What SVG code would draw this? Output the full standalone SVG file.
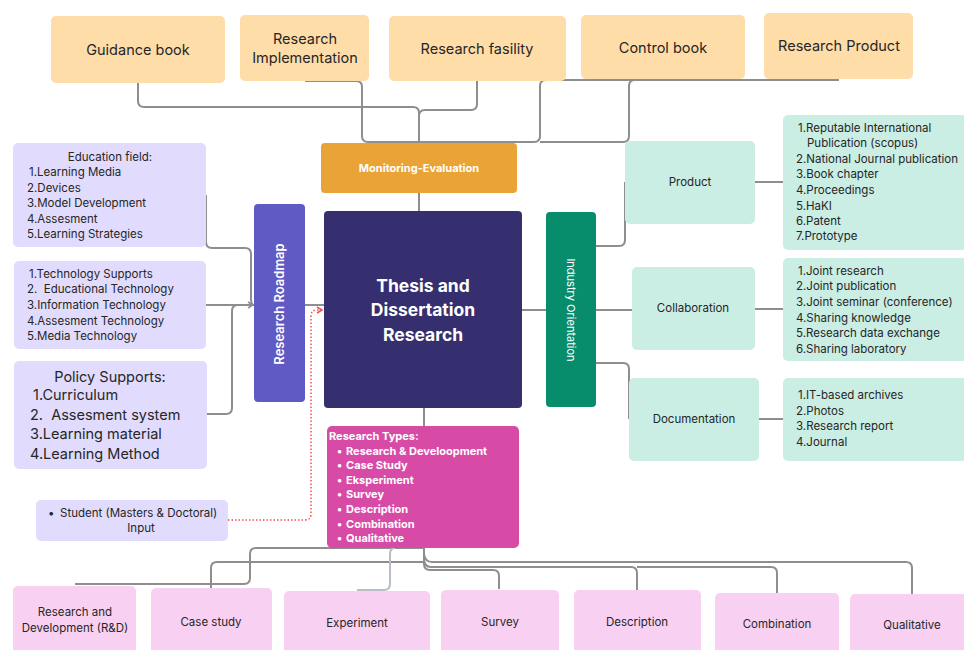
<svg xmlns="http://www.w3.org/2000/svg" width="964" height="650" viewBox="0 0 964 650">
<style>
text{font-family:Inter,"Noto Sans","Liberation Sans",sans-serif;fill:#262626}
.peach{fill:#FEDDA9}
.lav{fill:#E1DCFD}
.mint{fill:#CAEDE4}
.pink{fill:#F8D1F2}
.c{stroke:#8e8e8e;stroke-width:2;fill:none}
.lt{font-size:14.5px;text-anchor:middle}
.sm{font-size:11.5px}
.mid{text-anchor:middle}
.w{fill:#fff}
.b{font-weight:700}
</style>
<defs>
<marker id="ar" markerWidth="8" markerHeight="8" refX="6" refY="4" orient="auto" markerUnits="userSpaceOnUse">
<path d="M1,1 L6,4 L1,7" fill="none" stroke="#8e8e8e" stroke-width="1.5"/>
</marker>
<marker id="arr" markerWidth="8" markerHeight="8" refX="6" refY="4" orient="auto" markerUnits="userSpaceOnUse">
<path d="M1,1 L6,4 L1,7" fill="none" stroke="#f0504f" stroke-width="1.5"/>
</marker>
</defs>
<rect width="964" height="650" fill="#fff"/>
<g id="connectors">
<path class="c" d="M138,83 V101 Q138,107 144,107 H413 Q419,107 419,113 V143"/>
<path class="c" d="M305,81 H356 Q362,81 362,87 V136 Q362,142 368,142 H419"/>
<path class="c" d="M477,81 V104 Q477,110 471,110 H425 Q419,110 419,116"/>
<path class="c" d="M419,142 H534 Q540,142 540,136 V86 Q540,80 546,80 H663"/>
<path class="c" d="M540,142 H623 Q629,142 629,136 V86 Q629,80 635,80 H839"/>
<path class="c" d="M419,193 V211"/>
<path class="c" d="M206,195 V242 Q206,248 212,248 H245 Q251,248 251,254 V299 Q251,305 254,305"/>
<path class="c" d="M206,305 H253" marker-end="url(#ar)"/>
<path class="c" d="M207,414 H226 Q232,414 232,408 V311 Q232,305 238,305 H250"/>
<path class="c" d="M305,305 H324"/>
<path d="M228,520 H305 Q311,520 311,514 V316 Q311,310 317,310 H322" fill="none" stroke="#f0504f" stroke-width="1.5" stroke-dasharray="1.5 2" marker-end="url(#arr)"/>
<path class="c" d="M424,408 V426"/>
<path class="c" d="M522,310 H546"/>
<path class="c" d="M596,246 H619 Q625,246 625,240 V182"/>
<path class="c" d="M596,310 H632"/>
<path class="c" d="M596,363 H623 Q629,363 629,369 V419"/>
<path class="c" d="M755,182 H783"/>
<path class="c" d="M755,309 H783"/>
<path class="c" d="M759,419 H783"/>
<path class="c" d="M424,548 H256 Q250,548 250,554 V578 Q250,584 244,584 H75"/>
<path class="c" d="M424,562 H217 Q211,562 211,568 V588"/>
<path d="M395,548 Q390,548 390,554 V584 Q390,590 384,590 H357" fill="none" stroke="#b7bec6" stroke-width="2"/>
<path class="c" d="M424,548 V564 Q424,570 430,570 H493 Q499,570 499,576 V589"/>
<path class="c" d="M424,558 Q424,567 431,567 H631 Q637,567 637,573 V590 M637,567 H771 Q777,567 777,573 V593"/>
<path class="c" d="M424,554 Q425,562 432,562 H906 Q912,562 912,568 V594"/>
</g>
<g id="guidance-book"><rect class="peach" x="51" y="16" width="174" height="67" rx="5"/><text class="lt" x="138" y="55">Guidance book</text></g>
<g id="research-implementation"><rect class="peach" x="240" y="15" width="129" height="66" rx="5"/><text class="lt" x="305" y="44">Research</text><text class="lt" x="305" y="63">Implementation</text></g>
<g id="research-fasility"><rect class="peach" x="389" y="16" width="177" height="65" rx="5"/><text class="lt" x="477" y="54">Research fasility</text></g>
<g id="control-book"><rect class="peach" x="581" y="15" width="164" height="64" rx="5"/><text class="lt" x="663" y="53">Control book</text></g>
<g id="research-product"><rect class="peach" x="764" y="13" width="149" height="66" rx="5"/><text class="lt" x="839" y="51">Research Product</text></g>
<g id="monitoring-evaluation"><rect x="321" y="143" width="196" height="50" rx="4" fill="#EAA336"/><text class="w b mid" x="419" y="172" font-size="11">Monitoring-Evaluation</text></g>
<g id="thesis"><rect x="324" y="211" width="198" height="197" rx="4" fill="#352F6F"/><text class="w b mid" font-size="17.5"><tspan x="423" y="292">Thesis and</tspan><tspan x="423" y="316">Dissertation</tspan><tspan x="423" y="341">Research</tspan></text></g>
<g id="research-roadmap"><rect x="254" y="204" width="51" height="198" rx="4" fill="#5F5AC4"/><text class="w mid" font-size="13" font-weight="600" transform="translate(284,304) rotate(-90)">Research Roadmap</text></g>
<g id="industry-orientation"><rect x="546" y="212" width="50" height="195" rx="4" fill="#078D6C"/><text class="w mid" font-size="11" transform="translate(567,310) rotate(90)">Industry Orientation</text></g>
<g id="education-field"><rect class="lav" x="13" y="143" width="193" height="104" rx="5"/>
<text class="sm mid" x="110" y="161">Education field:</text>
<text class="sm"><tspan x="29" y="176">1.Learning Media</tspan><tspan x="27" y="192">2.Devices</tspan><tspan x="27" y="207">3.Model Development</tspan><tspan x="27" y="223">4.Assesment</tspan><tspan x="27" y="238">5.Learning Strategies</tspan></text></g>
<g id="technology-supports"><rect class="lav" x="14" y="261" width="192" height="88" rx="5"/>
<text class="sm"><tspan x="29" y="278">1.Technology Supports</tspan><tspan x="27" y="293">2.&#160; Educational Technology</tspan><tspan x="27" y="309">3.Information Technology</tspan><tspan x="27" y="325">4.Assesment Technology</tspan><tspan x="27" y="340">5.Media Technology</tspan></text></g>
<g id="policy-supports"><rect class="lav" x="14" y="361" width="193" height="108" rx="5"/>
<text class="mid" x="110" y="382" font-size="14.5">Policy Supports:</text>
<text font-size="14.5"><tspan x="33" y="400">1.Curriculum</tspan><tspan x="30" y="420">2.&#160; Assesment system</tspan><tspan x="30" y="439">3.Learning material</tspan><tspan x="30" y="459">4.Learning Method</tspan></text></g>
<g id="student"><rect class="lav" x="36" y="500" width="192" height="41" rx="5"/>
<text class="sm"><tspan x="48" y="517">•</tspan><tspan x="60" y="517">Student (Masters &amp; Doctoral)</tspan></text>
<text class="sm mid" x="141" y="532">Input</text></g>
<g id="research-types"><rect x="327" y="426" width="192" height="122" rx="5" fill="#D74BA7"/>
<text class="w b" font-size="11"><tspan x="329" y="440">Research Types:</tspan>
<tspan x="337" y="455">•</tspan><tspan x="346" y="455">Research &amp; Develoopment</tspan>
<tspan x="337" y="469">•</tspan><tspan x="346" y="469">Case Study</tspan>
<tspan x="337" y="484">•</tspan><tspan x="346" y="484">Eksperiment</tspan>
<tspan x="337" y="498">•</tspan><tspan x="346" y="498">Survey</tspan>
<tspan x="337" y="513">•</tspan><tspan x="346" y="513">Description</tspan>
<tspan x="337" y="528">•</tspan><tspan x="346" y="528">Combination</tspan>
<tspan x="337" y="542">•</tspan><tspan x="346" y="542">Qualitative</tspan></text></g>
<g id="product"><rect class="mint" x="625" y="141" width="130" height="83" rx="5"/><text class="sm mid" x="690" y="186">Product</text></g>
<g id="product-list"><rect class="mint" x="783" y="115" width="190" height="135" rx="5"/>
<text class="sm"><tspan x="798" y="132">1.Reputable International</tspan><tspan x="807" y="147">Publication (scopus)</tspan><tspan x="796" y="163">2.National Journal publication</tspan><tspan x="796" y="178">3.Book chapter</tspan><tspan x="796" y="194">4.Proceedings</tspan><tspan x="796" y="210">5.HaKI</tspan><tspan x="796" y="225">6.Patent</tspan><tspan x="796" y="240">7.Prototype</tspan></text></g>
<g id="collaboration"><rect class="mint" x="632" y="267" width="123" height="83" rx="5"/><text class="sm mid" x="693" y="312">Collaboration</text></g>
<g id="collaboration-list"><rect class="mint" x="783" y="258" width="190" height="103" rx="5"/>
<text class="sm"><tspan x="798" y="275">1.Joint research</tspan><tspan x="796" y="290">2.Joint publication</tspan><tspan x="796" y="306">3.Joint seminar (conference)</tspan><tspan x="796" y="322">4.Sharing knowledge</tspan><tspan x="796" y="337">5.Research data exchange</tspan><tspan x="796" y="353">6.Sharing laboratory</tspan></text></g>
<g id="documentation"><rect class="mint" x="629" y="378" width="130" height="83" rx="5"/><text class="sm mid" x="694" y="423">Documentation</text></g>
<g id="documentation-list"><rect class="mint" x="783" y="378" width="190" height="83" rx="5"/>
<text class="sm"><tspan x="798" y="399">1.IT-based archives</tspan><tspan x="796" y="415">2.Photos</tspan><tspan x="796" y="430">3.Research report</tspan><tspan x="796" y="446">4.Journal</tspan></text></g>
<g id="rd"><rect class="pink" x="13" y="586" width="123" height="80" rx="5"/><text class="sm mid"><tspan x="75" y="616">Research  and</tspan><tspan x="75" y="632">Development (R&amp;D)</tspan></text></g>
<g id="case-study"><rect class="pink" x="151" y="588" width="121" height="80" rx="5"/><text class="sm mid" x="211" y="626">Case study</text></g>
<g id="experiment"><rect class="pink" x="284" y="591" width="146" height="80" rx="5"/><text class="sm mid" x="357" y="627">Experiment</text></g>
<g id="survey"><rect class="pink" x="441" y="590" width="118" height="80" rx="5"/><text class="sm mid" x="500" y="626">Survey</text></g>
<g id="description"><rect class="pink" x="574" y="590" width="127" height="80" rx="5"/><text class="sm mid" x="637" y="626">Description</text></g>
<g id="combination"><rect class="pink" x="715" y="593" width="124" height="80" rx="5"/><text class="sm mid" x="777" y="628">Combination</text></g>
<g id="qualitative"><rect class="pink" x="850" y="594" width="125" height="80" rx="5"/><text class="sm mid" x="912" y="629">Qualitative</text></g>
</svg>
